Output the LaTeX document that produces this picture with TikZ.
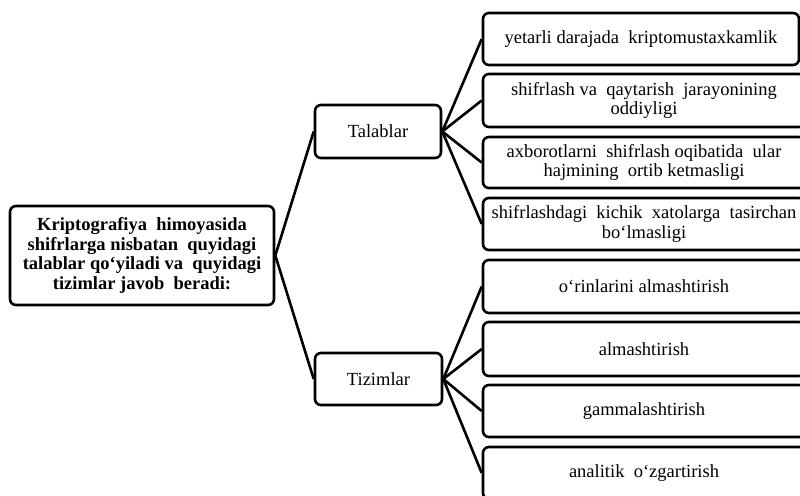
\documentclass[tikz,border=0pt]{standalone}
\usepackage{fontspec}
\setmainfont{Liberation Serif}
\begin{document}
\begin{tikzpicture}[x=1pt,y=-1pt,
  box/.style={draw=black, line width=2.6pt, rounded corners=6pt, fill=white, inner sep=1pt, align=center, font=\fontsize{18.5}{19.5}\selectfont},
  rbox/.style={box, minimum height=52pt},
  conn/.style={draw=black, line width=2.6pt}]
\useasboundingbox (0,0) rectangle (800,495);
\clip (0,0) rectangle (800,495);
% main box
\node[box, minimum width=264pt, minimum height=99pt, font=\bfseries\fontsize{18.5}{19.5}\selectfont] (main) at (142,255.5)
 {Kriptografiya\ \ himoyasida\\shifrlarga nisbatan\ \ quyidagi\\talablar qo‘yiladi va\ \ quyidagi\\tizimlar javob\ \ beradi:};
\node[box, minimum width=126pt, minimum height=53pt] (tal) at (378,131.5) {Talablar};
\node[box, minimum width=127pt, minimum height=52pt] (tiz) at (378.5,379) {Tizimlar};
% right boxes
\node[rbox, minimum width=316pt] (r1) at (641,39) {yetarli darajada\ \ kriptomustaxkamlik};
\node[rbox, minimum width=322pt, minimum height=53pt] (r2) at (644,100.5) {shifrlash va\ \ qaytarish\ \ jarayonining\\oddiyligi};
\node[rbox, minimum width=322pt, minimum height=51pt] (r3) at (644,162.5) {axborotlarni\ \ shifrlash oqibatida\ \ ular\\hajmining\ \ ortib ketmasligi};
\node[rbox, minimum width=322pt] (r4) at (644,224) {shifrlashdagi\ \ kichik\ \ xatolarga\ \ tasirchan\\bo‘lmasligi};
\node[rbox, minimum width=322pt, minimum height=53pt] (r5) at (644,286.5) {o‘rinlarini almashtirish};
\node[rbox, minimum width=322pt, minimum height=54pt] (r6) at (644,349) {almashtirish};
\node[rbox, minimum width=322pt] (r7) at (644,411) {gammalashtirish};
\node[rbox, minimum width=322pt] (r8) at (644,473) {analitik\ \ o‘zgartirish};
% connectors
\draw[conn] (main.east) -- (tal.west);
\draw[conn] (main.east) -- (tiz.west);
\foreach \r in {r1,r2,r3,r4} \draw[conn] (tal.east) -- (\r.west);
\foreach \r in {r5,r6,r7,r8} \draw[conn] (tiz.east) -- (\r.west);
\end{tikzpicture}
\end{document}
